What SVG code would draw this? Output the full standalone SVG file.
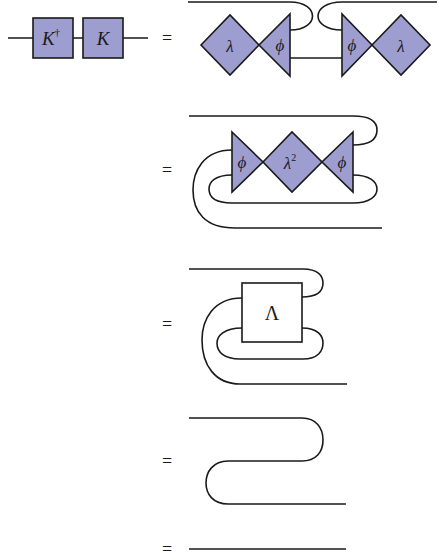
<svg xmlns="http://www.w3.org/2000/svg" width="439" height="560" viewBox="0 0 439 560">
<style>
.w{fill:none;stroke:#1a1a1a;stroke-width:1.6}
.n{fill:#9d9dcf;stroke:#1a1a1a;stroke-width:1.6;stroke-linejoin:miter}
.b{fill:#ffffff;stroke:#1a1a1a;stroke-width:1.6}
.t{font-family:"Liberation Serif","DejaVu Serif",serif;font-style:italic;font-size:17px;fill:#1a1a1a;text-anchor:middle;dominant-baseline:central}
.k{font-family:"Liberation Serif","DejaVu Serif",serif;font-style:italic;font-size:19px;fill:#1a1a1a;text-anchor:middle;dominant-baseline:central}
.u{font-family:"Liberation Serif","DejaVu Serif",serif;font-size:20px;fill:#1a1a1a;text-anchor:middle;dominant-baseline:central}
.eq{font-family:"Liberation Serif","DejaVu Serif",serif;font-size:18px;fill:#1a1a1a;text-anchor:middle;dominant-baseline:central}
</style>
<rect width="439" height="560" fill="#ffffff"/>
<g id="connectors">
<path class="w" d="M8,38 H33 M73,38 H83 M123,38 H148"/>
<path class="w" d="M188,2 H290 C320,2 320,30 290,30"/>
<path class="w" d="M342,30 C310,30 310,2 342,2 H437"/>
<path class="w" d="M290,58 H342"/>
<path class="w" d="M189,116 H353 C372,116 377,123 377,130 C377,138 372,145 353,145"/>
<path class="w" d="M232,150 C203,150 193,172 193,190 C193,212 205,228 235,228 H382"/>
<path class="w" d="M232,175 C215,175 209,182 209,189 C209,197 215,203 232,203 H353 C370,203 377,196 377,189 C377,182 370,175 353,175"/>
<path class="w" d="M189,269 H303 C318,269 323,276 323,283 C323,291 318,297 302,297"/>
<path class="w" d="M242,298 C213,298 202,320 202,340 C202,365 215,384 240,384 H347"/>
<path class="w" d="M242,328 C224,328 217,336 217,343 C217,352 224,359 240,359 H303 C318,359 323,351 323,343 C323,336 318,328 302,328"/>
<path class="w" d="M189,418 H302 C316,418 323,428 323,440 C323,452 316,461 302,461 H228 C213,461 206,472 206,483 C206,494 213,504 228,504 H346"/>
<path class="w" d="M189,549 H346"/>
</g>
<g id="Kdag"><rect class="n" x="33" y="18" width="40" height="40"/><text class="k" x="51" y="38">K<tspan font-size="11" dy="-6" font-style="normal">†</tspan></text></g>
<g id="K"><rect class="n" x="83" y="18" width="40" height="40"/><text class="k" x="103" y="38">K</text></g>
<g id="eq1"><text class="eq" x="167" y="38">=</text></g>
<g id="lambdaL"><polygon class="n" points="201,45 230,15 259,45 230,75"/><text class="t" x="230" y="46">λ</text></g>
<g id="phiL"><polygon class="n" points="259,45 290,14 290,76"/><text class="t" x="280" y="45">ϕ</text></g>
<g id="phiR"><polygon class="n" points="342,14 342,76 372,45"/><text class="t" x="352" y="45">ϕ</text></g>
<g id="lambdaR"><polygon class="n" points="372,45 401,15 430,45 401,75"/><text class="t" x="401" y="46">λ</text></g>
<g id="eq2"><text class="eq" x="167" y="170">=</text></g>
<g id="phi2L"><polygon class="n" points="232,132 263,162 232,192"/><text class="t" x="242" y="162">ϕ</text></g>
<g id="lambda2"><polygon class="n" points="263,162 292,132 322,162 292,192"/><text class="t" x="290" y="163">λ<tspan font-size="10" dy="-6" font-style="normal">2</tspan></text></g>
<g id="phi2R"><polygon class="n" points="353,132 322,162 353,192"/><text class="t" x="342" y="162">ϕ</text></g>
<g id="eq3"><text class="eq" x="167" y="324">=</text></g>
<g id="Lambda"><rect class="b" x="242" y="283" width="60" height="59"/><text class="u" x="272" y="313">Λ</text></g>
<g id="eq4"><text class="eq" x="167" y="461">=</text></g>
<g id="eq5"><text class="eq" x="167" y="549">=</text></g>
</svg>
